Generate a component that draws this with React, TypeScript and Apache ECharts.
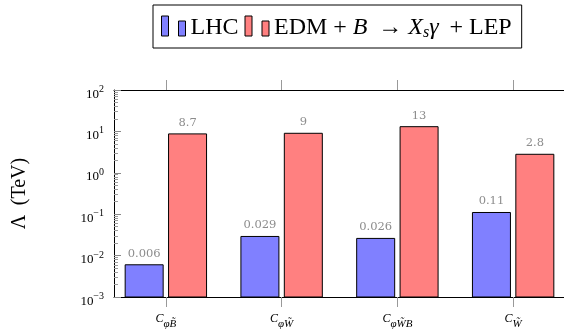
import React, { useEffect, useRef } from 'react';
import * as echarts from 'echarts';

// ---- data ----
const categorySubscripts = ['φB\u0303', 'φW\u0303', 'φW\u0303B', 'W\u0303'];
const categoryPositions = [0, 1, 2, 3];
const lhcValues = [0.006, 0.029, 0.026, 0.11];
const edmValues = [8.7, 9, 13, 2.8];
const yMin = 0.001;
const yMax = 100;
const yTickExponents = [-3, -2, -1, 0, 1, 2];
const seriesNames = ['LHC', 'EDM'];
const seriesColors = ['#8080ff', '#ff8080'];

const SERIF = 'Liberation Serif';

const minorTickValues: number[] = [];
for (let e = -3; e < 2; e++) {
  for (let m = 2; m <= 9; m++) minorTickValues.push(m * Math.pow(10, e));
}
const majorTickValues = yTickExponents.map((e) => Math.pow(10, e));

const legendIcon = 'path://M0,0h7v20h-7z M17,5h7v15h-7z';

const BAR_W = 38;
const BAR_OFF = 21.7;

function makeRender(values: number[], color: string, dir: number) {
  return (params: any, api: any) => {
    const x = api.value(0);
    const v = api.value(1);
    const base = api.coord([x, yMin]);
    const top = api.coord([x, v]);
    const cx = base[0] + dir * BAR_OFF;
    return {
      type: 'group',
      children: [
        {
          type: 'rect',
          shape: { x: cx - BAR_W / 2, y: top[1], width: BAR_W, height: base[1] - top[1] },
          style: { fill: color, stroke: '#000', lineWidth: 1 },
        },
        {
          type: 'text',
          x: cx,
          y: top[1] - 6,
          style: {
            text: String(values[params.dataIndex]),
            align: 'center',
            verticalAlign: 'bottom',
            fill: '#8c8c8c',
            fontFamily: 'DejaVu Serif',
            fontSize: 11.5,
          },
        },
      ],
    };
  };
}

export default function App() {
  const ref = useRef<HTMLDivElement>(null);
  useEffect(() => {
    if (!ref.current) return;
    const chart = echarts.init(ref.current, undefined, { renderer: 'svg' });
    const xMin = -0.448;
    const xMax = 3.448;
    chart.setOption({
      animation: false,
      grid: { left: 113, right: 15, top: 90, bottom: 38 },
      legend: {
        left: 153,
        top: 5,
        padding: [9, 10, 9, 8],
        borderColor: '#000',
        borderWidth: 1,
        itemWidth: 24,
        itemHeight: 20,
        itemGap: 6,
        icon: legendIcon,
        data: seriesNames.map((n, i) => ({
          name: n,
          itemStyle: { color: seriesColors[i], borderColor: '#000', borderWidth: 1 },
        })),
        formatter: (name: string) =>
          name === 'LHC'
            ? '{t|LHC}'
            : '{t|EDM + }{i|B}{t| \u2009→ }{i|X}{s|s}{i|γ}{t| \u2009+ LEP}',
        textStyle: {
          color: '#000',
          fontFamily: SERIF,
          fontSize: 24,
          rich: {
            t: { fontFamily: SERIF, fontSize: 24, lineHeight: 24, verticalAlign: 'top' },
            i: { fontFamily: SERIF, fontSize: 24, lineHeight: 24, fontStyle: 'italic', verticalAlign: 'top' },
            s: { fontFamily: SERIF, fontSize: 16, lineHeight: 16, fontStyle: 'italic', verticalAlign: 'top', padding: [9, 0, 0, 0] },
          },
        },
      },
      xAxis: [
        {
          type: 'value',
          position: 'bottom',
          min: xMin,
          max: xMax,
          splitLine: { show: false },
          axisLine: { show: true, onZero: false, lineStyle: { color: '#000', width: 1 } },
          axisTick: {
            show: true,
            inside: false,
            length: 10,
            customValues: categoryPositions,
            lineStyle: { color: '#999' },
          },
          axisLabel: {
            show: true,
            margin: 15,
            customValues: categoryPositions,
            formatter: (v: number) => `{c|C}{s|${categorySubscripts[Math.round(v)]}}`,
            rich: {
              c: { fontFamily: SERIF, fontStyle: 'italic', fontSize: 12, lineHeight: 12, verticalAlign: 'top', color: '#000' },
              s: { fontFamily: SERIF, fontStyle: 'italic', fontSize: 11, lineHeight: 12, verticalAlign: 'top', padding: [5, 0, 0, 0], color: '#000' },
            },
          },
        },
        {
          type: 'value',
          position: 'top',
          min: xMin,
          max: xMax,
          splitLine: { show: false },
          axisLine: { show: true, onZero: false, lineStyle: { color: '#000', width: 1 } },
          axisTick: {
            show: true,
            inside: false,
            length: 10,
            customValues: categoryPositions,
            lineStyle: { color: '#999' },
          },
          axisLabel: { show: false },
        },
      ],
      yAxis: [
        {
          type: 'log',
          min: yMin,
          max: yMax,
          logBase: 10,
          position: 'left',
          name: 'Λ  (TeV)',
          nameLocation: 'middle',
          nameRotate: 90,
          nameGap: 86,
          nameTextStyle: { fontFamily: SERIF, fontSize: 20, color: '#000' },
          splitLine: { show: false },
          axisLine: { show: true, onZero: false, lineStyle: { color: '#000', width: 1 } },
          axisTick: {
            show: true,
            inside: true,
            length: 7,
            customValues: majorTickValues,
            lineStyle: { color: '#888' },
          },
          axisLabel: {
            margin: 10,
            customValues: majorTickValues,
            formatter: (v: number) => {
              const e = Math.round(Math.log10(v));
              return `{b|10}{p|${e < 0 ? '−' + -e : e}}`;
            },
            rich: {
              b: { fontFamily: SERIF, fontSize: 13, lineHeight: 13, verticalAlign: 'top', padding: [3, 0, 0, 0], color: '#000' },
              p: { fontFamily: SERIF, fontSize: 10, lineHeight: 11, verticalAlign: 'top', color: '#000' },
            },
          },
        },
        {
          type: 'log',
          min: yMin,
          max: yMax,
          logBase: 10,
          position: 'left',
          offset: 0,
          splitLine: { show: false },
          axisLine: { show: false, onZero: false },
          axisLabel: { show: false },
          axisTick: {
            show: true,
            inside: true,
            length: 4,
            customValues: minorTickValues,
            lineStyle: { color: '#999' },
          },
        },
      ],
      series: [
        {
          type: 'custom',
          name: 'LHC',
          xAxisIndex: 0,
          yAxisIndex: 0,
          itemStyle: { color: seriesColors[0] },
          encode: { x: 0, y: 1 },
          renderItem: makeRender(lhcValues, seriesColors[0], -1),
          data: categoryPositions.map((x, i) => [x, lhcValues[i]]),
        },
        {
          type: 'custom',
          name: 'EDM',
          xAxisIndex: 0,
          yAxisIndex: 0,
          itemStyle: { color: seriesColors[1] },
          encode: { x: 0, y: 1 },
          renderItem: makeRender(edmValues, seriesColors[1], 1),
          data: categoryPositions.map((x, i) => [x, edmValues[i]]),
        },
      ],
    });
    return () => chart.dispose();
  }, []);
  return (
    <div
      ref={ref}
      style={{ position: 'fixed', left: 0, top: 0, width: 580, height: 335 }}
    />
  );
}
